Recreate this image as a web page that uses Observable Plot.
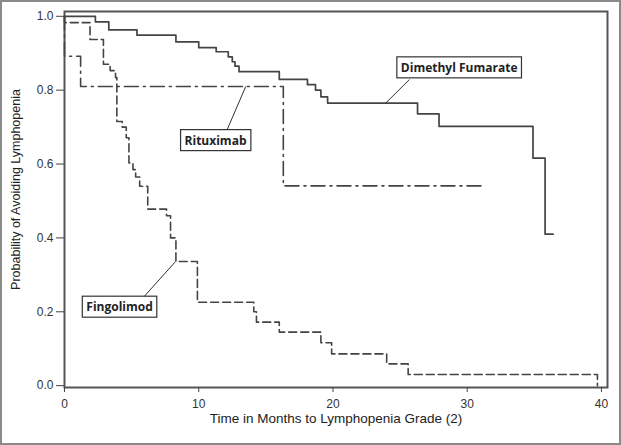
<!DOCTYPE html>
<html>
<head>
<meta charset="utf-8">
<script src="https://cdn.jsdelivr.net/npm/d3@7"></script>
<script src="https://cdn.jsdelivr.net/npm/@observablehq/plot@0.6"></script>
<style>
  html, body { margin: 0; padding: 0; background: #fff; }
  #wrap { position: relative; width: 621px; height: 445px; overflow: hidden; }
  #border { position: absolute; left: 0; top: 0; width: 621px; height: 445px; box-sizing: border-box; border: 2px solid #8a8a8a; pointer-events: none; }
  svg { display: block; }
</style>
</head>
<body>
<div id="wrap"><div id="border"></div></div>
<script>
// ---- Data ----
const dmfTime = [0, 2.3, 3.3, 5.4, 8.3, 10.0, 11.3, 12.2, 12.5, 12.7, 13.0, 16.0, 18.1, 18.7, 19.1, 19.6, 26.3, 27.9, 34.9, 35.8, 36.4];
const dmfSurv = [1.0, 0.985, 0.963, 0.949, 0.931, 0.915, 0.904, 0.890, 0.877, 0.865, 0.850, 0.829, 0.815, 0.800, 0.782, 0.765, 0.736, 0.702, 0.616, 0.410, 0.410];

const rituxTime = [0, 0, 1.2, 16.3, 31.3];
const rituxSurv = [1.0, 0.892, 0.810, 0.541, 0.541];

const fingoTime = [0, 0, 1.9, 2.9, 3.4, 3.8, 3.9, 4.3, 4.6, 4.8, 5.1, 5.3, 5.6, 6.2, 7.6, 7.9, 8.3, 9.9, 14.1, 14.3, 16.0, 19.1, 19.9, 24.0, 25.6, 39.7, 39.7];
const fingoSurv = [1.0, 0.983, 0.937, 0.870, 0.853, 0.834, 0.715, 0.700, 0.671, 0.603, 0.585, 0.565, 0.540, 0.478, 0.460, 0.400, 0.336, 0.226, 0.200, 0.172, 0.145, 0.116, 0.086, 0.059, 0.030, 0.030, 0.0];

const xTicks = [0, 10, 20, 30, 40];
const yTicks = [0.0, 0.2, 0.4, 0.6, 0.8, 1.0];

const labelNames = ["Dimethyl Fumarate", "Rituximab", "Fingolimod"];
const labelX = [29.4, 11.25, 4.1];
const labelY = [0.860, 0.663, 0.212];
// leader lines: from (x1,y1) at box to (x2,y2) at curve
const leaderX1 = [25.7, 12.0, 5.8];
const leaderY1 = [0.829, 0.683, 0.236];
const leaderX2 = [23.9, 13.5, 8.27];
const leaderY2 = [0.764, 0.810, 0.336];

const xTitle = "Time in Months to Lymphopenia Grade (2)";
const yTitle = "Probability of Avoiding Lymphopenia";

// ---- Tables ----
const toRows = (ts, ss) => ts.map((t, i) => ({t, s: ss[i]}));
const dmf = toRows(dmfTime, dmfSurv);
const ritux = toRows(rituxTime, rituxSurv);
const fingo = toRows(fingoTime, fingoSurv);
const labels = labelNames.map((name, i) => ({name, x: labelX[i], y: labelY[i]}));
const leaders = labelNames.map((name, i) => ({x1: leaderX1[i], y1: leaderY1[i], x2: leaderX2[i], y2: leaderY2[i]}));

const ink = "#444";
const chart = Plot.plot({
  width: 621,
  height: 445,
  marginLeft: 64,
  marginRight: 14,
  marginTop: 11,
  marginBottom: 58,
  style: {fontFamily: "'Liberation Sans', Arial, sans-serif", fontSize: "12px", color: "#333", background: "transparent"},
  x: {domain: [0, 40.45]},
  y: {domain: [-0.005, 1.013]},
  marks: [
    Plot.frame({stroke: "#555", strokeWidth: 2}),
    Plot.axisY({ticks: yTicks, tickFormat: d3.format(".1f"), tickSize: 8, tickPadding: 3, label: null, stroke: "#444", fontSize: 12}),
    Plot.axisX({ticks: xTicks, tickFormat: d3.format("d"), tickSize: 5, tickPadding: 7, label: null, stroke: "#444", fontSize: 12}),
    Plot.text([yTitle], {frameAnchor: "left", textAnchor: "middle", text: d => d, rotate: -90, dx: -49, dy: -10, fontSize: 12.5, fill: "#222"}),
    Plot.text([xTitle], {frameAnchor: "bottom", textAnchor: "middle", text: d => d, dy: 35, fontSize: 13.5, fill: "#222"}),
    Plot.line(dmf, {x: "t", y: "s", curve: "step-after", stroke: ink, strokeWidth: 1.7}),
    Plot.line(ritux, {x: "t", y: "s", curve: "step-after", stroke: ink, strokeWidth: 1.6, strokeDasharray: "14,5,2,5"}),
    Plot.line(fingo, {x: "t", y: "s", curve: "step-after", stroke: ink, strokeWidth: 1.6, strokeDasharray: "8,4"}),
    Plot.link(leaders, {x1: "x1", y1: "y1", x2: "x2", y2: "y2", stroke: "#333", strokeWidth: 1}),
    Plot.text(labels, {x: "x", y: "y", text: "name", className: "boxlabel", fontFamily: "'Open Sans', sans-serif", fontWeight: "bold", fontSize: 12, fill: "#222"})
  ]
});
document.getElementById("wrap").prepend(chart);

// draw boxes behind annotation labels
chart.querySelectorAll(".boxlabel text").forEach(t => {
  const b = t.getBBox();
  const r = document.createElementNS("http://www.w3.org/2000/svg", "rect");
  const px = 4, py = 2;
  r.setAttribute("x", b.x - px);
  r.setAttribute("y", b.y - py);
  r.setAttribute("width", b.width + 2 * px);
  r.setAttribute("height", b.height + 2 * py);
  r.setAttribute("fill", "#fff");
  r.setAttribute("stroke", "#333");
  r.setAttribute("stroke-width", "1.2");
  const tr = t.getAttribute("transform");
  if (tr) r.setAttribute("transform", tr);
  t.parentNode.insertBefore(r, t);
});
</script>
</body>
</html>
